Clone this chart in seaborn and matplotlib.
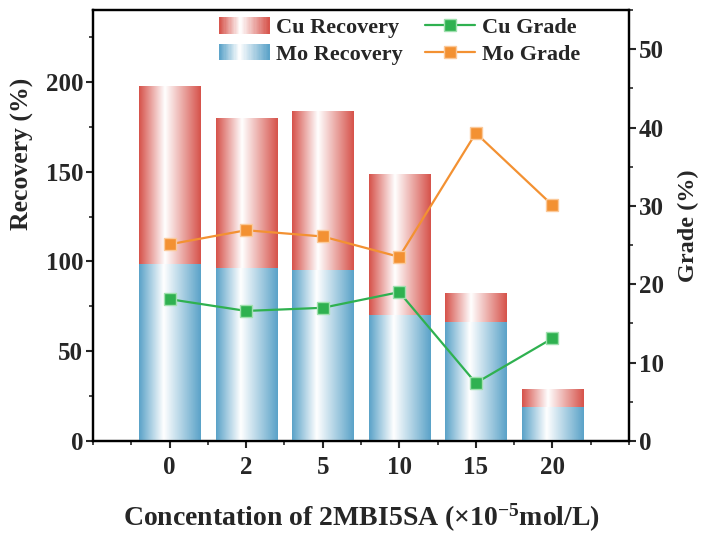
import numpy as np
import pandas as pd
import seaborn as sns
import matplotlib
matplotlib.use('Agg')
import matplotlib.pyplot as plt
from matplotlib.colors import LinearSegmentedColormap
from matplotlib.patches import Patch, Rectangle
from matplotlib.lines import Line2D
from matplotlib.legend_handler import HandlerBase
from matplotlib.ticker import MultipleLocator

# data
concentration = ['0', '2', '5', '10', '15', '20']
mo_recovery = [98.8, 96.3, 95.0, 70.0, 66.3, 19.0]
cu_recovery = [99.1, 83.7, 88.5, 78.8, 16.2, 10.0]
cu_grade = [18.1, 16.6, 17.0, 19.0, 7.4, 13.1]
mo_grade = [25.1, 26.9, 26.1, 23.5, 39.3, 30.1]

sns.set_style('ticks')
plt.rcParams['font.family'] = ['Liberation Serif', 'DejaVu Serif']
plt.rcParams['font.weight'] = 'bold'
plt.rcParams['axes.labelweight'] = 'bold'
plt.rcParams['mathtext.fontset'] = 'custom'
plt.rcParams['mathtext.rm'] = 'Liberation Serif:bold'
plt.rcParams['mathtext.it'] = 'Liberation Serif:bold'
plt.rcParams['mathtext.bf'] = 'Liberation Serif:bold'

RED = '#d6524a'
BLUE = '#5aa2c8'
GREEN = '#2fb150'
ORANGE = '#f39132'
red_cmap = LinearSegmentedColormap.from_list('r', [(0, RED), (0.42, '#ffffff'), (1, RED)])
blue_cmap = LinearSegmentedColormap.from_list('b', [(0, BLUE), (0.4, '#ffffff'), (1, BLUE)])

df = pd.DataFrame({
    'conc': concentration,
    'mo': mo_recovery,
    'total': np.array(mo_recovery) + np.array(cu_recovery),
})

fig = plt.figure(figsize=(7.12, 5.39), dpi=100)
ax = fig.add_axes([0.1306, 0.1818, 0.7528, 0.7996])

sns.barplot(data=df, x='conc', y='total', color=RED, width=0.8, ax=ax, zorder=2)
n_total = len(ax.patches)
sns.barplot(data=df, x='conc', y='mo', color=BLUE, width=0.8, ax=ax, zorder=3)

# gradient fill clipped to each bar
grad = np.linspace(0, 1, 256).reshape(1, -1)
for i, p in enumerate(ax.patches):
    cmap = red_cmap if i < n_total else blue_cmap
    x0, y0 = p.get_x(), p.get_y()
    w, h = p.get_width(), p.get_height()
    p.set_facecolor('none')
    p.set_edgecolor('none')
    im = ax.imshow(grad, extent=[x0, x0 + w, y0, y0 + h], aspect='auto', cmap=cmap,
                   zorder=p.get_zorder(), interpolation='bilinear')
    im.set_clip_path(p)

ax.set_xlim(-1, 6)
ax.set_ylim(0, 240)
ax.set_yticks([0, 50, 100, 150, 200])
ax.yaxis.set_minor_locator(MultipleLocator(25))
ax.set_xticks(range(6))
ax.set_xticklabels(concentration)
ax.xaxis.set_minor_locator(MultipleLocator(0.5))

ax2 = ax.twinx()
pos = np.arange(len(concentration))
sns.lineplot(x=pos, y=cu_grade, ax=ax2, color=GREEN, marker='s', markersize=8,
             markeredgecolor='#9fe0ae', markeredgewidth=1, linewidth=1.6)
sns.lineplot(x=pos, y=mo_grade, ax=ax2, color=ORANGE, marker='s', markersize=8,
             markeredgecolor='#fbc999', markeredgewidth=1, linewidth=1.6)
ax2.set_ylim(0, 55)
ax2.set_yticks([0, 10, 20, 30, 40, 50])
ax2.yaxis.set_minor_locator(MultipleLocator(5))
ax2.set_xlim(-1, 6)

for a in (ax, ax2):
    for s in a.spines.values():
        s.set_linewidth(1.6)
        s.set_color('black')
    a.tick_params(which='major', length=5, width=1.5, labelsize=18, direction='out')
    a.tick_params(which='minor', length=3, width=1.2, direction='out')
ax.tick_params(axis='y', pad=2)
ax2.tick_params(axis='y', pad=2)
ax.tick_params(axis='x', pad=6)

ax.set_xlabel('Concentation of 2MBI5SA (×10$^{-5}$mol/L)', fontsize=20, labelpad=16)
ax.set_ylabel('Recovery (%)', fontsize=18.5)
ax.yaxis.set_label_coords(-0.11, 0.666)
ax2.set_ylabel('Grade (%)', fontsize=17.5)
ax2.yaxis.set_label_coords(1.091, 0.5)


class GradientHandler(HandlerBase):
    def __init__(self, cmap):
        super().__init__()
        self.cmap = cmap

    def create_artists(self, legend, orig_handle, xdescent, ydescent, width, height, fontsize, trans):
        n = 40
        arts = []
        for k in range(n):
            arts.append(Rectangle((-xdescent + k * width / n, -ydescent), width / n + 0.3, height,
                                  facecolor=self.cmap((k + 0.5) / n), edgecolor='none', transform=trans))
        return arts


h_cu = Patch(label='Cu Recovery')
h_mo = Patch(label='Mo Recovery')
h_cug = Line2D([], [], color=GREEN, marker='s', markersize=8, markeredgecolor='#9fe0ae', lw=1.6)
h_mog = Line2D([], [], color=ORANGE, marker='s', markersize=8, markeredgecolor='#fbc999', lw=1.6)
ax2.legend([h_cu, h_mo, h_cug, h_mog], ['Cu Recovery', 'Mo Recovery', 'Cu Grade', 'Mo Grade'],
           handler_map={h_cu: GradientHandler(red_cmap), h_mo: GradientHandler(blue_cmap)},
           ncol=2, loc='upper left', bbox_to_anchor=(0.215, 1.009), frameon=False, borderpad=0,
           fontsize=16, handlelength=2.25, handleheight=0.75, columnspacing=1.0,
           labelspacing=0.27, handletextpad=0.3)

fig.savefig('out.png', dpi=100)
